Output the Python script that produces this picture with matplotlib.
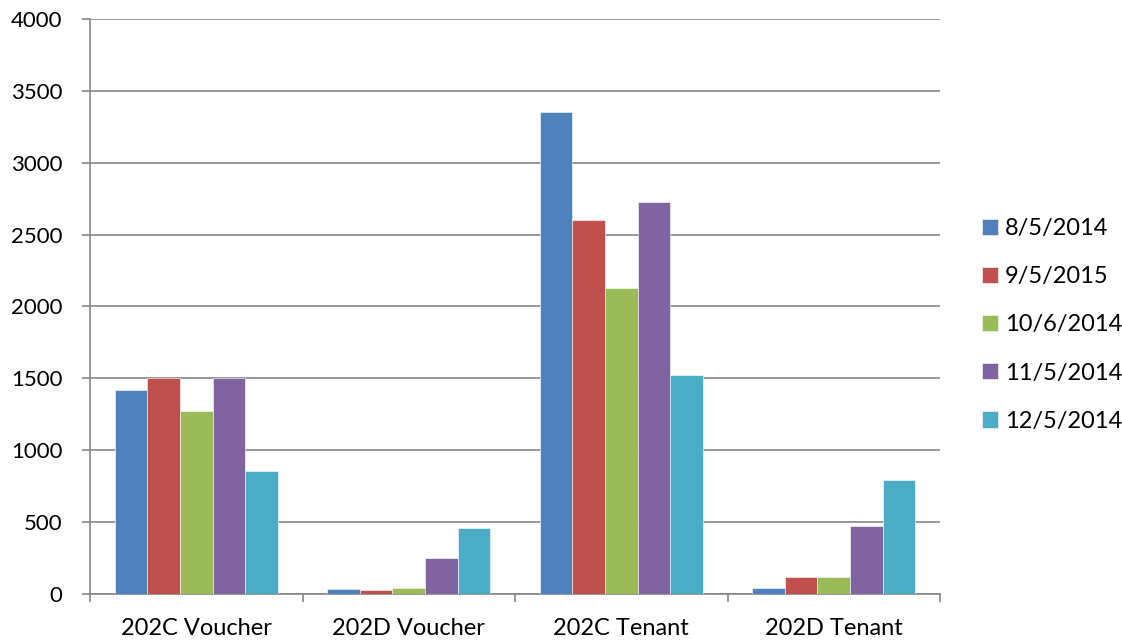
import matplotlib.pyplot as plt
import numpy as np

categories = ['202C Voucher', '202D Voucher', '202C Tenant', '202D Tenant']
series_names = ['8/5/2014', '9/5/2015', '10/6/2014', '11/5/2014', '12/5/2014']
values = [
    [1420, 35, 3350, 40],
    [1500, 28, 2600, 115],
    [1270, 45, 2130, 115],
    [1500, 250, 2725, 475],
    [855, 460, 1525, 790],
]
colors = ['#4F81BD', '#C0504D', '#9BBB59', '#8064A2', '#4BACC6']

plt.rcParams['font.family'] = ['Lato', 'DejaVu Sans']

fig = plt.figure(figsize=(11.22, 6.44), dpi=100)
ax = fig.add_axes([90 / 1122, 1 - 594 / 644, 850 / 1122, 575 / 644])

n = len(series_names)
bar_w = 1 / (n + 1.5)
x = np.arange(len(categories))
for i, name in enumerate(series_names):
    offs = (i - (n - 1) / 2) * bar_w
    ax.bar(x + offs, values[i], width=bar_w, color=colors[i], label=name,
           edgecolor='white', linewidth=0.4, zorder=3)

ax.set_xlim(-0.5, len(categories) - 0.5)
ax.set_ylim(0, 4000)
ax.set_yticks(np.arange(0, 4001, 500))
ax.yaxis.grid(True, color='#868686', linewidth=1.2, zorder=0)
ax.set_xticks(np.arange(-0.5, len(categories), 1))
ax.set_xticklabels([])
ax.set_xticks(x, minor=True)
ax.set_xticklabels(categories, minor=True)
ax.tick_params(axis='x', which='minor', length=0, labelsize=17, pad=17)
ax.tick_params(axis='x', which='major', length=6, color='#868686', width=1.2)
ax.tick_params(axis='y', length=6, color='#868686', width=1.2, labelsize=16, pad=14)

for side in ['top', 'right']:
    ax.spines[side].set_visible(False)
for side in ['left', 'bottom']:
    ax.spines[side].set_color('#868686')
    ax.spines[side].set_linewidth(1.2)

leg = ax.legend(loc='center left', bbox_to_anchor=(1.049, 0.468), frameon=False,
                fontsize=17, handlelength=0.68, handleheight=0.68,
                labelspacing=1.15, handletextpad=0.3, borderpad=0, borderaxespad=0)

fig.savefig('out.png', dpi=100)
